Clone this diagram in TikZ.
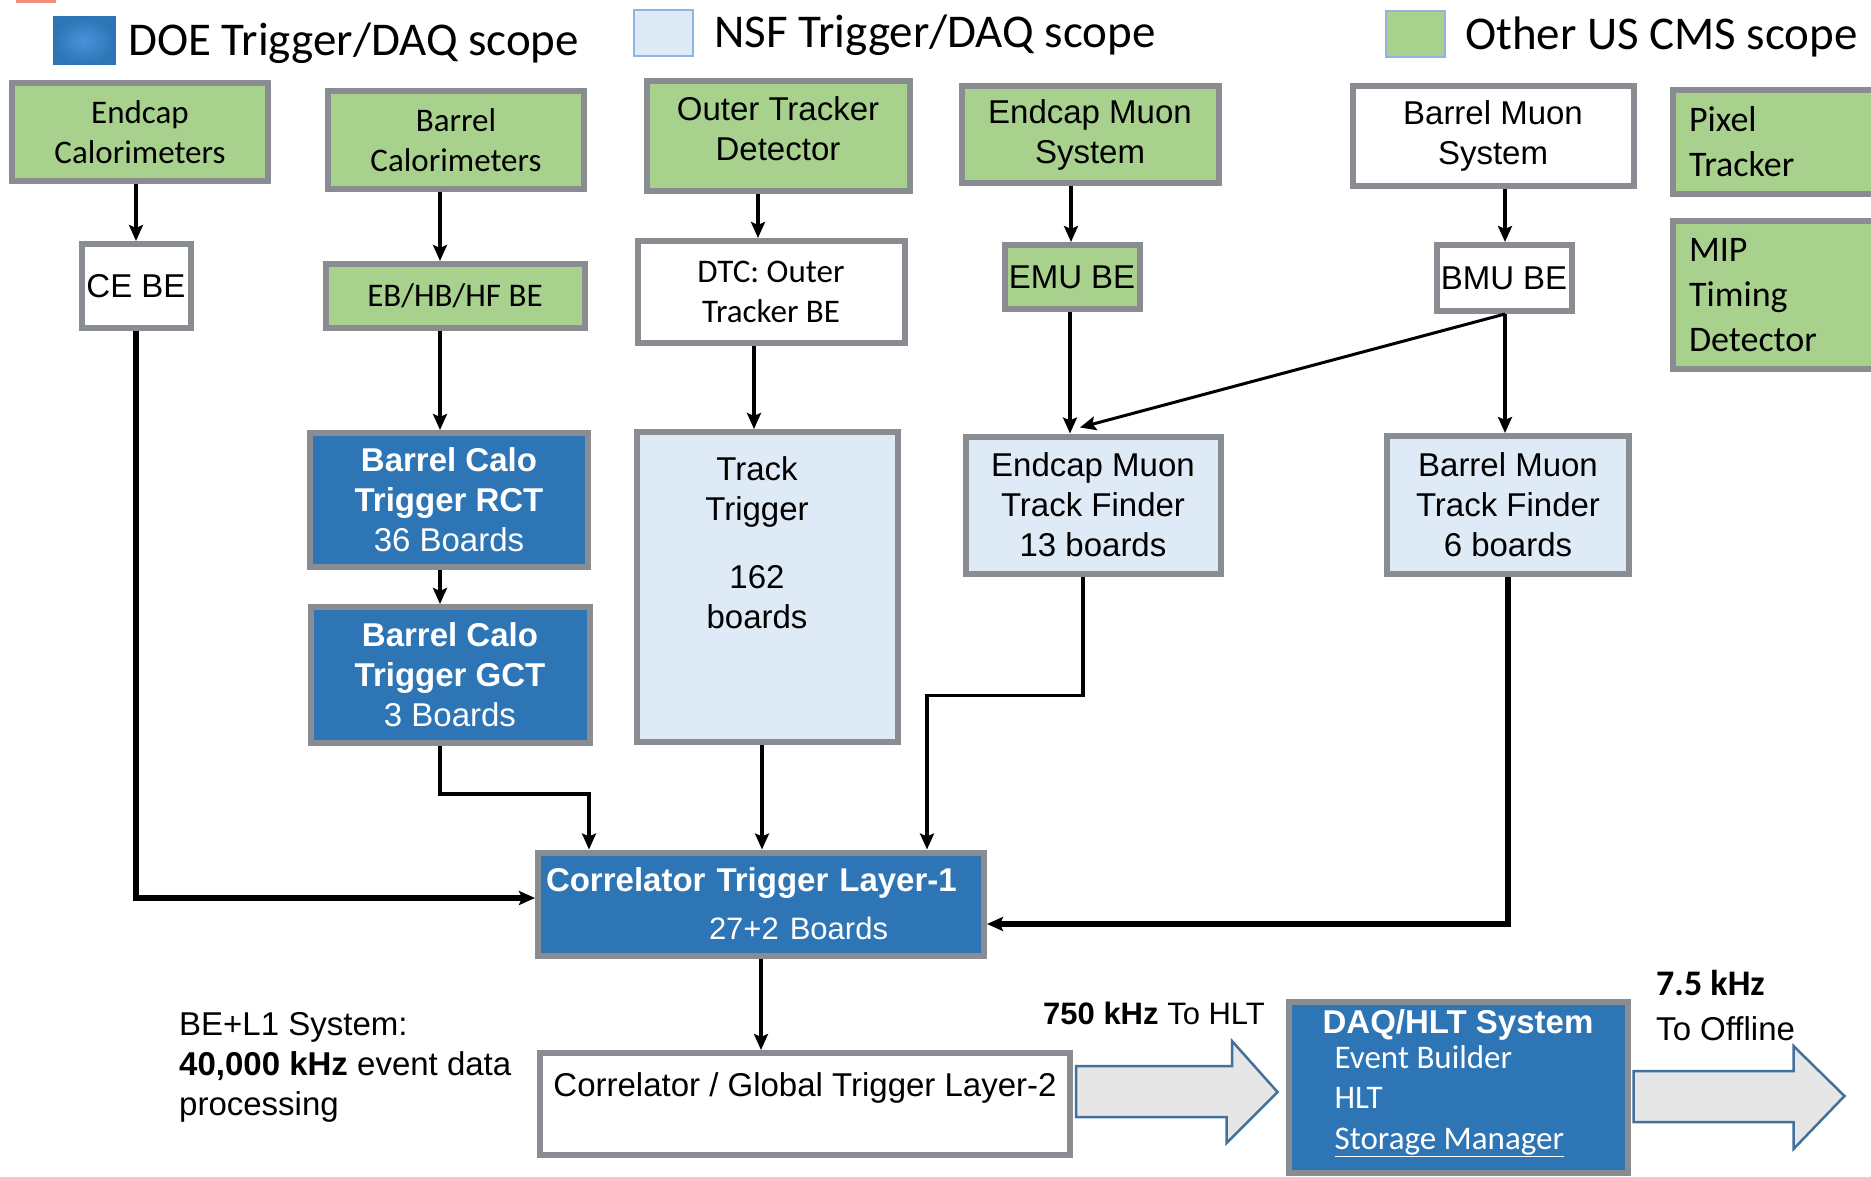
\documentclass[tikz,border=0pt]{standalone}
\usepackage{fontspec}
\setmainfont{Carlito}
\newfontfamily\arialfam{Liberation Sans}
\usepackage{tikz}
\usetikzlibrary{arrows.meta,positioning,calc}
\definecolor{usgreen}  {HTML}{A9D18E}
\definecolor{doeblue}  {HTML}{2E75B6}
\definecolor{doelight} {HTML}{4A92DA}
\definecolor{nsfblue}  {HTML}{DEEBF7}
\definecolor{edgegray} {HTML}{898C91}
\definecolor{keyedge}  {HTML}{8FB5E3}
\definecolor{pipegray} {HTML}{E7E6E6}
\definecolor{pipeedge} {HTML}{41719C}
\definecolor{corner}   {HTML}{F0907A}
\newcommand{\calfont}{\fontsize{33}{40.5}\selectfont}
\newcommand{\arialfont}{\arialfam\fontsize{33}{40}\selectfont}

\begin{document}
\begin{tikzpicture}[x=1pt,y=-1pt,
    plainbox/.style={draw=edgegray,line width=6pt,inner sep=4pt,align=center,font=\calfont},
    greenbox/.style={plainbox,fill=usgreen},
    whitebox/.style={plainbox,fill=white},
    doebox/.style={plainbox,fill=doeblue,text=white},
    nsfbox/.style={plainbox,fill=nsfblue},
    arial/.style={font=\arialfont},
    keybox/.style={draw=keyedge,line width=2pt,minimum width=59pt,minimum height=46pt},
    keytext/.style={anchor=west,inner sep=0pt,font=\fontsize{47}{56}\selectfont},
    conn/.style={-{Stealth[length=16pt,width=14pt,inset=3pt]},line width=3.5pt},
    heavyconn/.style={conn,line width=5.5pt},
    pipe/.style={fill=pipegray,draw=pipeedge,line width=2.5pt,line join=miter}]
  \clip (0,0) rectangle (1871,1177);
  \fill[corner] (16,0) rectangle (56,3);

  % legend
  \node[keybox,draw=doeblue,inner color=doelight,outer color=doeblue,minimum width=61pt,minimum height=47pt] (doekey) at (84,41) {};
  \node[keytext] (doetext) at (128,43) {DOE Trigger/DAQ scope};
  \node[keybox,fill=nsfblue] (nsfkey) at (663,33) {};
  \node[keytext] (nsftext) at (714,35) {NSF Trigger/DAQ scope};
  \node[keybox,fill=usgreen] (uskey) at (1415,34) {};
  \node[keytext] (ustext) at (1465,37) {Other US CMS scope};

  % detectors
  \node[greenbox,minimum width=256pt,minimum height=98pt] (ecal) at (140,132) {Endcap\\Calorimeters};
  \node[greenbox,minimum width=256pt,minimum height=98pt] (bcal) at (456,140) {Barrel\\Calorimeters};
  \node[greenbox,arial,minimum width=263pt,minimum height=110pt] (otd) at (778,136) {Outer Tracker\\Detector\\[-26pt]\mbox{}};
  \node[greenbox,arial,minimum width=257pt,minimum height=97pt] (emus) at (1090,135) {Endcap Muon\\System};
  \node[whitebox,arial,minimum width=281pt,minimum height=100pt] (bmus) at (1493,136) {Barrel Muon\\System};
  \node[greenbox,anchor=north west,text width=190pt,inner xsep=16pt,minimum height=104pt,align=left,
        font=\fontsize{36}{45}\selectfont] (pix) at (1670,87) {Pixel\\Tracker};
  \node[greenbox,anchor=north west,text width=190pt,inner xsep=16pt,minimum height=148pt,align=left,
        font=\fontsize{36}{45}\selectfont] (mip) at (1670,218) {MIP\\Timing\\Detector};

  % back ends
  \node[whitebox,arial,minimum width=109pt,minimum height=84pt] (cebe) at (136,286) {CE BE};
  \node[greenbox,minimum width=259pt,minimum height=64pt] (ebhbhf) at (455,296) {EB/HB/HF BE};
  \node[whitebox,minimum width=267pt,minimum height=102pt] (dtc) at (771,292) {DTC: Outer\\Tracker BE};
  \node[greenbox,arial,minimum width=135pt,minimum height=64pt] (emube) at (1072,277) {EMU BE};
  \node[whitebox,arial,minimum width=135pt,minimum height=66pt] (bmube) at (1504,278) {BMU BE};

  % trigger boards
  \node[doebox,arial,minimum width=278pt,minimum height=134pt] (rct) at (449,500)
    {\textbf{Barrel Calo}\\\textbf{Trigger RCT}\\{\calfont 36 Boards}};
  \node[doebox,arial,minimum width=279pt,minimum height=136pt] (gct) at (450,675)
    {\textbf{Barrel Calo}\\\textbf{Trigger GCT}\\{\calfont 3 Boards}};
  \node[nsfbox,minimum width=261pt,minimum height=310pt] (tt) at (767,587) {};
  \node[font=\arialfont,align=center,inner sep=0pt] (ttlab) at ([xshift=-10pt,yshift=-114pt]tt.north)
    {Track\\Trigger\\[28pt]{\calfont 162}\\{\calfont boards}};
  \node[nsfbox,arial,minimum width=255pt,minimum height=137pt] (emtf) at (1093,505) {Endcap Muon\\Track Finder\\13 boards};
  \node[nsfbox,arial,minimum width=242pt,minimum height=138pt] (bmtf) at (1508,505) {Barrel Muon\\Track Finder\\{\calfont 6 boards}};

  \node[doebox,arial,text width=430pt,inner xsep=8pt,minimum height=103pt,align=left] (l1) at (761,904)
    {\textbf{Correlator Trigger Layer-1}\\[8pt]\hspace*{163pt}{\fontsize{31}{38}\selectfont 27+2 Boards}};
  \node[whitebox,arial,minimum width=530pt,minimum height=102pt,text depth=38pt] (l2) at (805,1104)
    {Correlator / Global Trigger Layer-2};
  \node[doebox,minimum width=339pt,minimum height=171pt,align=left] (daq) at (1458,1087)
    {{\arialfam\bfseries DAQ/HLT System}\\[-6pt]\hspace*{12pt}Event Builder\\\hspace*{12pt}HLT\\\hspace*{12pt}\underline{Storage Manager}\\[-26pt]\mbox{}};

  % rates
  \node[anchor=west,align=left,inner sep=0pt,font=\arialfont] (beltext) at (179,1067)
    {BE+L1 System:\\\textbf{40,000 kHz} event data\\processing};
  \node[anchor=west,inner sep=0pt,font=\arialfam\fontsize{31}{38}\selectfont] (hltrate) at (1043,1013)
    {\textbf{750 kHz} To HLT};
  \node[anchor=west,align=left,inner sep=0pt,font=\arialfont] (offrate) at (1656,1006)
    {{\normalfont\fontsize{36}{40}\selectfont\bfseries 7.5 kHz}\\[5pt]To Offline};

  \draw[pipe] ([xshift=3pt,yshift=38pt]l2.east) -- ++(156,0) -- ++(0,-25) -- ([xshift=-8pt,yshift=-5pt]daq.west)
    -- ++(-51,51) -- ++(0,-26) -- ([xshift=3pt,yshift=-13pt]l2.east) -- cycle;
  \draw[pipe] ([xshift=3pt,yshift=16pt]daq.east) -- ++(160,0) -- ++(0,-25) -- ++(51,50)
    -- ++(-51,53) -- ++(0,-27) -- ([xshift=3pt,yshift=-35pt]daq.east) -- cycle;

  % connections
  \draw[conn] (ecal.south -| cebe.north) -- (cebe.north);
  \draw[conn] ([xshift=-16pt]bcal.south) -- ([xshift=-15pt]ebhbhf.north);
  \draw[conn] ([xshift=-20pt]otd.south) -- ([xshift=-13pt]dtc.north);
  \draw[conn] ([xshift=-19pt]emus.south) -- ([xshift=-1pt]emube.north);
  \draw[conn] ([xshift=12pt]bmus.south) -- ([xshift=1pt]bmube.north);
  \draw[conn] ([xshift=-15pt]ebhbhf.south) -- ([xshift=-9pt]rct.north);
  \draw[conn] ([xshift=-9pt]rct.south) -- ([xshift=-10pt]gct.north);
  \draw[conn] ([xshift=-17pt]dtc.south) -- ([xshift=-13pt]tt.north);
  \draw[conn] ([xshift=-2pt]emube.south) -- ([xshift=-23pt]emtf.north);
  \draw[conn,line width=3pt] ([xshift=1pt]bmube.south) -- ([xshift=-13pt,yshift=6pt]emtf.north);
  \draw[conn] ([xshift=1pt]bmube.south) -- ([xshift=-3pt]bmtf.north);
  \draw[heavyconn] (cebe.south) |- ([yshift=6pt]l1.west);
  \draw[conn] ([xshift=-10pt]gct.south) -- ++(0,48) -| ([xshift=-172pt]l1.north);
  \draw[conn] ([xshift=-5pt]tt.south) -- ([xshift=-5pt]tt.south |- l1.north);
  \draw[conn] ([xshift=-10pt]emtf.south) -- ++(0,119) -| ([xshift=166pt]l1.north);
  \draw[heavyconn] (bmtf.south) |- ([yshift=-20pt]l1.east);
  \draw[conn] (l1.south) -- (l1.south |- l2.north);
\end{tikzpicture}
\end{document}
